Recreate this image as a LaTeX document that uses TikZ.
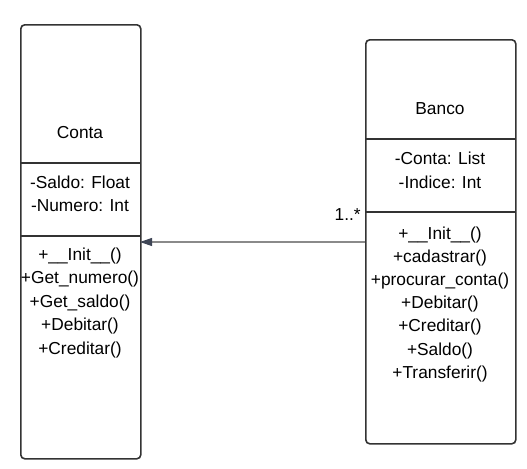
\documentclass[tikz,border=0pt]{standalone}
\usepackage{fontspec}
\setmainfont{Liberation Sans}
\usetikzlibrary{arrows.meta}
\definecolor{boxc}{HTML}{333333}
\definecolor{linec}{HTML}{8A8A8A}
\definecolor{tipc}{HTML}{3F4656}
\begin{document}
\begin{tikzpicture}[x=0.75pt,y=-0.75pt,
  box/.style={draw=boxc, line width=1.2pt, rounded corners=3pt, inner sep=0pt, anchor=north west},
  sep/.style={draw=boxc, line width=1pt},
  txt/.style={font=\fontsize{13}{15}\selectfont, inner sep=0pt, anchor=center, text=black},
  assoc/.style={draw=linec, line width=0.8pt, -{Triangle[length=9pt,width=6pt,color=tipc]}}]
\useasboundingbox (0,0) rectangle (527,468);
% Conta class
\node[box, minimum width=90pt, minimum height=325.5pt] (conta) at (20,24) {};
\draw[sep] (20,163) -- (140,163);
\draw[sep] (20,236) -- (140,236);
\node[txt] (ctitle) at (80,133) {Conta};
\node[txt] (ca1) at (80,182) {-Saldo: Float};
\node[txt] (ca2) at (80,206) {-Numero: Int};
\node[txt] (cm1) at (80,256) {+\_\_Init\_\_()};
\node[txt] (cm2) at (80,279.5) {+Get\_numero()};
\node[txt] (cm3) at (80,303) {+Get\_saldo()};
\node[txt] (cm4) at (80,326.5) {+Debitar()};
\node[txt] (cm5) at (80,350) {+Creditar()};
% Banco class
\node[box, minimum width=112.5pt, minimum height=303pt] (banco) at (365,39) {};
\draw[sep] (365,139) -- (515,139);
\draw[sep] (365,212) -- (515,212);
\node[txt] (btitle) at (440,109) {Banco};
\node[txt] (ba1) at (440,158) {-Conta: List};
\node[txt] (ba2) at (440,182) {-Indice: Int};
\node[txt] (bm1) at (440,235) {+\_\_Init\_\_()};
\node[txt] (bm2) at (440,258) {+cadastrar()};
\node[txt] (bm3) at (440,281) {+procurar\_conta()};
\node[txt] (bm4) at (440,304) {+Debitar()};
\node[txt] (bm5) at (440,327.5) {+Creditar()};
\node[txt] (bm6) at (440,351) {+Saldo()};
\node[txt] (bm7) at (440,374.5) {+Transferir()};
% association
\coordinate (from) at (365,242);
\coordinate (to) at (140,242);
\draw[assoc] (from) -- (to);
\node[txt, anchor=east] (mult) at (361,215) {1..*};
\end{tikzpicture}
\end{document}
